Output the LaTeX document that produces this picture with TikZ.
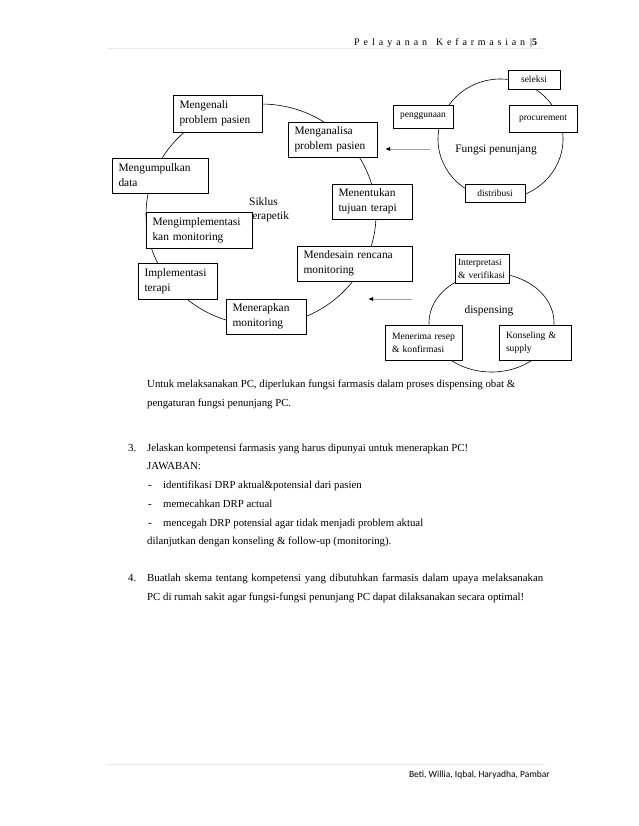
\documentclass[tikz,border=0pt]{standalone}
\usepackage{fontspec}
\setmainfont{Liberation Serif}
\newfontfamily\footfont{Carlito}
\usetikzlibrary{arrows.meta}
\hyphenpenalty=10000
\exhyphenpenalty=10000
\begin{document}
\begin{tikzpicture}[x=1pt,y=-1pt,
  cbox/.style={draw, fill=white, line width=0.6pt, inner xsep=6.5pt, inner ysep=0pt, align=left, font=\fontsize{11.4}{15}\selectfont},
  sbox/.style={draw, fill=white, line width=0.6pt, inner sep=0pt, align=center, font=\fontsize{9.5}{12}\selectfont},
  dbox/.style={draw, fill=white, line width=0.6pt, inner xsep=7pt, inner ysep=0pt, align=left, font=\fontsize{9.6}{13}\selectfont},
  ring/.style={line width=0.6pt},
  feed/.style={draw=gray!75, line width=0.8pt, -{Latex[length=5pt,width=4pt,color=black]}},
  lab/.style={inner sep=0pt, align=left, font=\fontsize{11.4}{14}\selectfont},
  body/.style={anchor=base west, inner sep=0pt, font=\fontsize{10.8}{12}\selectfont},
  rule/.style={draw=gray!18, line width=1pt}]
\useasboundingbox[fill=white] (0,0) rectangle (638,826);

% header and footer
\coordinate (hl1) at (108,49); \coordinate (hl2) at (543,49);
\draw[rule] (hl1) -- (hl2);
\node[anchor=base west, inner sep=0pt, font=\fontsize{10}{12}\selectfont] (hdr) at (354,46)
  {\makebox[73pt][s]{P e l a y a n a n}\hspace{9pt}\makebox[89pt][s]{K e f a r m a s i a n}\hspace{5pt}|\textbf{5}};
\coordinate (fl1) at (108,764); \coordinate (fl2) at (545,764);
\draw[rule] (fl1) -- (fl2);
\node[anchor=base east, inner sep=0pt, font=\footfont\fontsize{9.5}{11}\selectfont] (ftr) at (550,777) {Beti, Willia, Iqbal, Haryadha, Pambar};

% therapeutic cycle
\draw[ring] (261,214.6) ellipse [x radius=115, y radius=110.6];
\node[lab, anchor=north west] (siklus) at (249,197) {Siklus\\terapetik};
\node[cbox, text width=76pt, minimum height=37pt] (mengenali) at (217.5,113.5) {Mengenali\\problem pasien};
\node[cbox, text width=76pt, minimum height=35pt] (menganalisa) at (332.5,139.5) {Menganalisa\\problem pasien};
\node[cbox, text width=83pt, minimum height=35pt] (mengumpulkan) at (160,175.5) {Mengumpulkan\\data};
\node[cbox, text width=93pt, minimum height=36pt] (mengimpl) at (199,230) {Mengimplementasi\\kan monitoring};
\node[cbox, text width=67pt, minimum height=35pt] (menentukan) at (372,201.5) {Menentukan\\tujuan terapi};
\node[cbox, text width=66pt, minimum height=36pt] (implementasi) at (177.5,281) {Implementasi\\terapi};
\node[cbox, text width=67pt, minimum height=35pt] (menerapkan) at (266,316.5) {Menerapkan\\monitoring};
\node[cbox, text width=102pt, minimum height=35pt] (mendesain) at (354.5,263.5) {Mendesain rencana\\monitoring};

% supporting functions
\draw[ring] (500.5,139) ellipse [x radius=62.5, y radius=60];
\node[lab] (fungsi) at (496,150) {Fungsi penunjang};
\node[sbox, minimum width=52pt, minimum height=19pt] (seleksi) at (534,79.5) {seleksi};
\node[sbox, minimum width=60pt, minimum height=23pt] (penggunaan) at (423,116.5) {penggunaan};
\node[sbox, minimum width=68pt, minimum height=27pt] (procurement) at (543,118.5) {procurement};
\node[sbox, minimum width=60pt, minimum height=18pt] (distribusi) at (495,193) {distribusi};
\coordinate (f1) at (430,149); \coordinate (f2) at (385,149);
\draw[feed] (f1) -- (f2);

% dispensing
\draw[ring] (491.5,322.6) ellipse [x radius=62.5, y radius=49.4];
\node[lab] (disp) at (489,311) {dispensing};
\node[dbox, inner xsep=3pt, text width=48pt, minimum height=29pt] (interp) at (482,268.5) {Interpretasi\\\& verifikasi};
\node[dbox, text width=63pt, minimum height=35pt] (menerima) at (423.5,342.5) {Menerima resep\\\& konfirmasi};
\node[dbox, text width=58pt, minimum height=35pt] (konseling) at (535,342.5) {Konseling \&\\supply};
\coordinate (d1s) at (412,299); \coordinate (d1e) at (368,299);
\draw[feed] (d1s) -- (d1e);

% body text
\node[body] (p1) at (147,387) {Untuk melaksanakan PC, diperlukan fungsi farmasis dalam proses dispensing obat \&};
\node[body] (p2) at (147,406) {pengaturan fungsi penunjang PC.};
\node[body] (n3) at (128,451) {3.};
\node[body] (q3) at (147,451) {Jelaskan kompetensi farmasis yang harus dipunyai untuk menerapkan PC!};
\node[body] (jw) at (147,469) {JAWABAN:};
\node[body] (m1) at (148,488) {-};
\node[body] (b1) at (163,488) {identifikasi DRP aktual\&potensial dari pasien};
\node[body] (m2) at (148,507) {-};
\node[body] (b2) at (163,507) {memecahkan DRP actual};
\node[body] (m3) at (148,526) {-};
\node[body] (b3) at (163,526) {mencegah DRP potensial agar tidak menjadi problem aktual};
\node[body] (lj) at (147,544) {dilanjutkan dengan konseling \& follow-up (monitoring).};
\node[body] (n4) at (128,581) {4.};
\node[body] (q4a) at (147,581) {\makebox[396pt][s]{Buatlah skema tentang kompetensi yang dibutuhkan farmasis dalam upaya melaksanakan}};
\node[body] (q4b) at (147,600) {PC di rumah sakit agar fungsi-fungsi penunjang PC dapat dilaksanakan secara optimal!};
\end{tikzpicture}
\end{document}
